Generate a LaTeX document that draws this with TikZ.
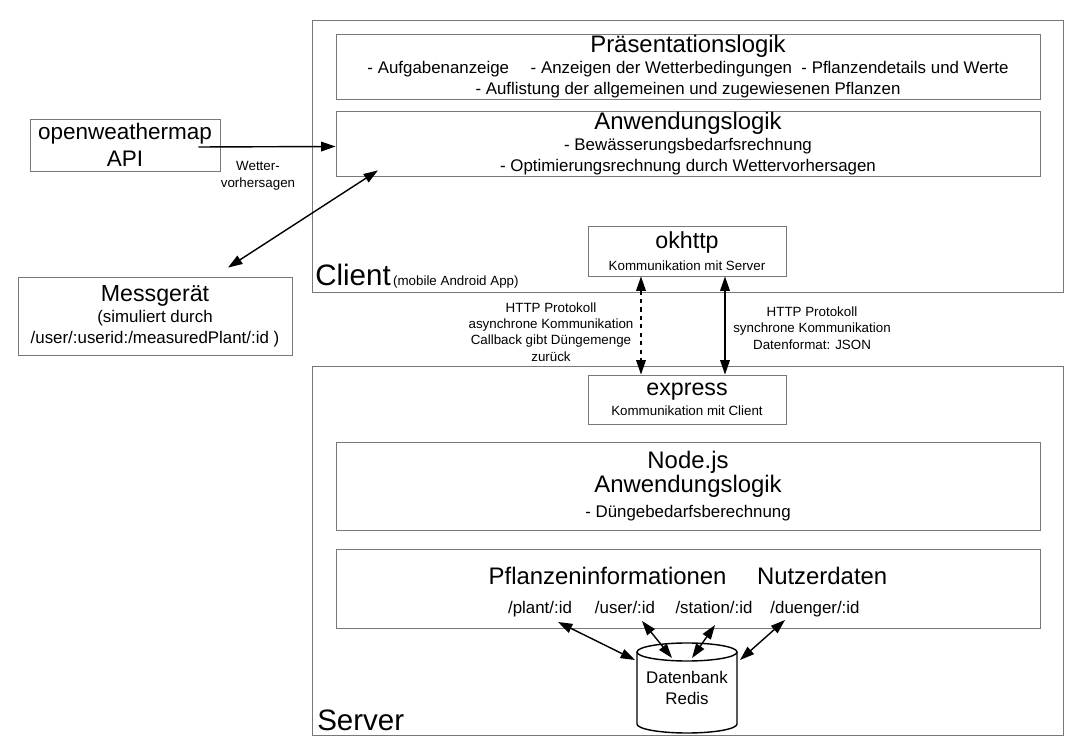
\documentclass[tikz,border=0pt]{standalone}
\usepackage{fontspec}
\setmainfont{Liberation Sans}
\usetikzlibrary{arrows.meta, positioning, calc}
\definecolor{framegray}{RGB}{120,120,120}
\newcommand{\hdfont}{\fontsize{17}{20}\selectfont}
\newcommand{\itemfont}{\fontsize{12}{15}\selectfont}
\newcommand{\tinyfont}{\fontsize{9.5}{11.7}\selectfont}
\newcommand{\bigfont}{\fontsize{21}{24}\selectfont}
\newcommand{\compfont}{\fontsize{16.5}{19}\selectfont}

\begin{document}
\begin{tikzpicture}[x=0.025cm, y=-0.025cm,
  frame/.style={rectangle, draw=framegray, line width=0.6pt, inner sep=0pt},
  box/.style={frame, align=center, minimum width=704*0.025cm, minimum height=65*0.025cm},
  comp/.style={frame, align=center, minimum width=198*0.025cm, minimum height=50*0.025cm},
  lbl/.style={align=center, font=\tinyfont, inner sep=0pt},
  path/.style={font=\itemfont, inner sep=0pt, anchor=base},
  arr/.style={-{Triangle[length=0.36cm, width=0.24cm]}, line width=1pt},
  darr/.style={{Triangle[length=0.36cm, width=0.24cm]}-{Triangle[length=0.36cm, width=0.24cm]}, line width=1pt}
]
  \useasboundingbox (0,0) rectangle (1085,753);

  % Client side
  \node[frame, minimum width=751*0.025cm, minimum height=272*0.025cm] (client) at (687.5,156) {};
  \node[box, font=\itemfont] (praes) at (688,66.5)
    {{\hdfont Präsentationslogik}\\
     - Aufgabenanzeige\quad\ - Anzeigen der Wetterbedingungen\ \ - Pflanzendetails und Werte\\
     - Auflistung der allgemeinen und zugewiesenen Pflanzen};
  \node[box, font=\itemfont] (anwc) at (688,143.5)
    {{\hdfont Anwendungslogik}\\
     - Bewässerungsbedarfsrechnung\\
     - Optimierungsrechnung durch Wettervorhersagen};
  \node[comp, font=\fontsize{9.5}{15.5}\selectfont] (okhttp) at (687,251)
    {{\compfont okhttp}\\Kommunikation mit Server};
  \node[anchor=base west, inner sep=0pt] (clientlbl) at (315,286)
    {{\bigfont Client}\,{\tinyfont (mobile Android App)}};

  % outside
  \node[frame, align=center, minimum width=190*0.025cm, minimum height=52*0.025cm,
        font=\fontsize{16}{19}\selectfont] (owm) at (125,145) {openweathermap\\API};
  \node[frame, align=center, minimum width=274*0.025cm, minimum height=78*0.025cm,
        font=\fontsize{12}{15}\selectfont] (mess) at (155,316)
    {{\fontsize{16.5}{19}\selectfont Messgerät}\\(simuliert durch\\/user/:userid:/measuredPlant/:id )};
  \node[lbl] (wetter) at (258,176) {Wetter-\\vorhersagen};

  % Server side
  \node[frame, minimum width=751*0.025cm, minimum height=369*0.025cm] (server) at (687.5,550.5) {};
  \node[comp, minimum height=49*0.025cm, font=\fontsize{9.5}{14}\selectfont] (express) at (687,399.5)
    {{\compfont express}\\Kommunikation mit Client};
  \node[box, minimum height=88*0.025cm, font=\fontsize{12}{17.5}\selectfont] (nodejs) at (688,486)
    {{\hdfont Node.js}\\{\hdfont Anwendungslogik}\\- Düngebedarfsberechnung};
  \node[box, minimum height=79*0.025cm] (daten) at (688,588.5) {};
  \node[font=\hdfont, inner sep=0pt, anchor=base] (dtitle) at (688,584) {Pflanzeninformationen\quad\ Nutzerdaten};
  \node[path] (plant) at (540,613) {/plant/:id};
  \node[path] (user) at (625,613) {/user/:id};
  \node[path] (station) at (714,613) {/station/:id};
  \node[path] (duenger) at (815,613) {/duenger/:id};
  \node[anchor=base west, inner sep=0pt, font=\bigfont] (serverlbl) at (317,730) {Server};

  % Datenbank
  \node[align=center, font=\fontsize{12}{15}\selectfont, inner sep=0pt] (db) at (687,688) {Datenbank\\Redis};
  \draw[line width=1pt] (687,652) ellipse[x radius=50, y radius=9];
  \draw[line width=1pt] (637,652) -- (637,724) arc[start angle=180, end angle=0, x radius=50, y radius=9] -- (737,652);

  % connectors
  \draw[arr] ($(owm.east)+(-22,2)$) -- ($(anwc.west)+(0,3)$);
  \draw[darr] ($(mess.north)+(73,-9)$) -- ($(anwc.south)+(-310,-6)$);
  \draw[darr, dashed] ($(okhttp.south)+(-46,0)$) -- ($(express.north)+(-46,0)$);
  \draw[darr] ($(okhttp.south)+(38,0)$) -- ($(express.north)+(38,0)$);
  \draw[darr] ($(plant.base)+(18,9)$) -- ($(db.center)+(-52,-28)$);
  \draw[darr] ($(user.base)+(17,8)$) -- ($(db.center)+(-15,-30)$);
  \draw[darr] ($(station.base)+(1,12)$) -- ($(db.center)+(5,-30)$);
  \draw[darr] ($(duenger.base)+(-30,7)$) -- ($(db.center)+(53,-28)$);

  % labels
  \node[lbl] (async) at (551,332)
    {HTTP Protokoll\\asynchrone Kommunikation\\Callback gibt Düngemenge\\zurück};
  \node[lbl] (sync) at (812,328)
    {HTTP Protokoll\\synchrone Kommunikation\\Datenformat: JSON};
\end{tikzpicture}
\end{document}
